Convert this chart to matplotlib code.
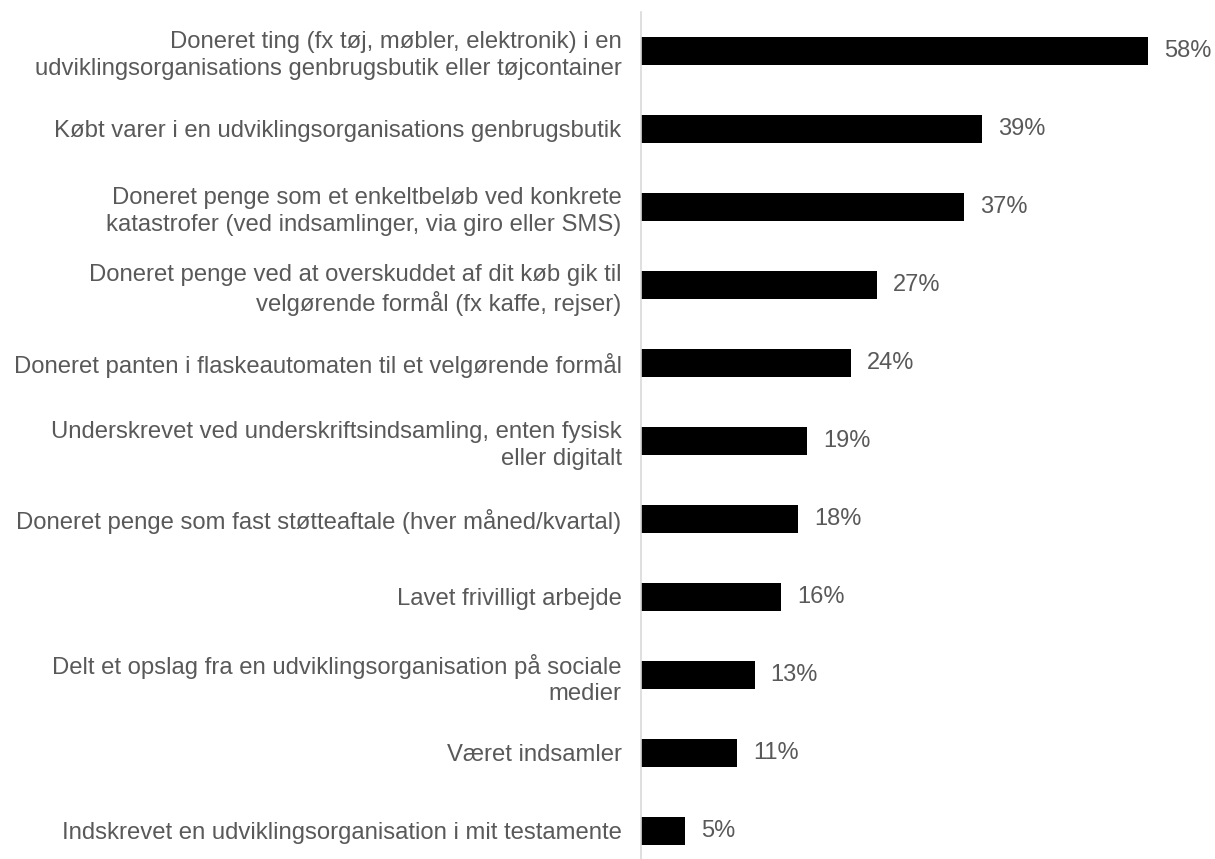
import matplotlib
matplotlib.use("Agg")
import matplotlib.pyplot as plt

categories = [
    "Doneret ting (fx tøj, møbler, elektronik) i en\nudviklingsorganisations genbrugsbutik eller tøjcontainer",
    "Købt varer i en udviklingsorganisations genbrugsbutik",
    "Doneret penge som et enkeltbeløb ved konkrete\nkatastrofer (ved indsamlinger, via giro eller SMS)",
    "Doneret penge ved at overskuddet af dit køb gik til\nvelgørende formål (fx kaffe, rejser)",
    "Doneret panten i flaskeautomaten til et velgørende formål",
    "Underskrevet ved underskriftsindsamling, enten fysisk\neller digitalt",
    "Doneret penge som fast støtteaftale (hver måned/kvartal)",
    "Lavet frivilligt arbejde",
    "Delt et opslag fra en udviklingsorganisation på sociale\nmedier",
    "Været indsamler",
    "Indskrevet en udviklingsorganisation i mit testamente",
]
values = [58, 39, 37, 27, 24, 19, 18, 16, 13, 11, 5]
value_labels = ["58%", "39%", "37%", "27%", "24%", "19%", "18%", "16%", "13%", "11%", "5%"]

plt.rcParams['font.family'] = ['Liberation Sans', 'DejaVu Sans']

W, H = 1215, 859
fig = plt.figure(figsize=(W / 100, H / 100), dpi=100)
ax_left = 641 / W
ax_right = 1195 / W
ax_top = 1 - 12 / H
ax_bottom = 0.0
ax = fig.add_axes([ax_left, ax_bottom, ax_right - ax_left, ax_top - ax_bottom])

n = len(categories)
ypos = list(range(n))
ax.barh(ypos, values, height=0.35, color="black")
ax.set_ylim(10.36, -0.5)
ax.set_xlim(0, 554 / 8.74)

txt_color = "#595959"
ax.set_yticks(ypos)
ax.set_yticklabels(categories, fontsize=17.2, color=txt_color, linespacing=1.25)
ax.tick_params(axis="y", length=0, pad=14)
ax.set_xticks([])
for s in ["top", "right", "bottom"]:
    ax.spines[s].set_visible(False)
ax.spines["left"].set_color("#d9d9d9")
ax.spines["left"].set_linewidth(1.2)

for y, v, lab in zip(ypos, values, value_labels):
    ax.annotate(lab, xy=(v, y), xytext=(11.5, 0), textcoords="offset points",
                va="center", ha="left", fontsize=17, color=txt_color)

fig.savefig("out.png", dpi=100)
